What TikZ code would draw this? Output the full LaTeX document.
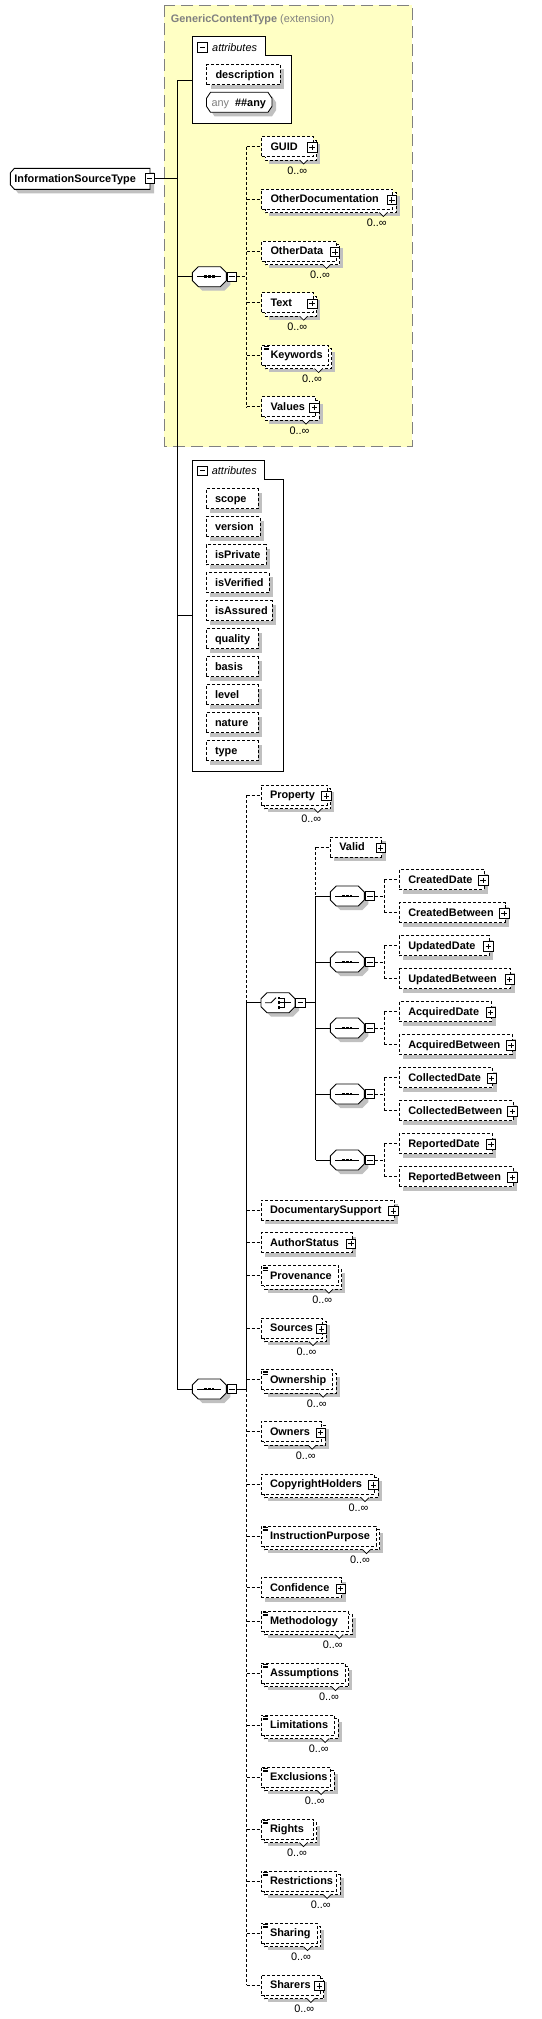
\documentclass[tikz,border=0pt]{standalone}
\usepackage{fontspec}
\setmainfont{Liberation Sans}
\definecolor{ylw}{RGB}{255,255,196}
\definecolor{shc}{RGB}{192,192,192}
\definecolor{ttl}{RGB}{128,128,128}
\tikzset{
 lblfont/.style={font=\fontsize{10.9}{12}\selectfont\bfseries},
 ebox/.style={draw,dash pattern=on 3pt off 2pt,line width=0.8pt,fill=white,anchor=west,minimum height=20pt,inner xsep=9pt,inner ysep=0pt,outer sep=0pt,text height=7.8pt,text depth=0pt,lblfont},
 dsh/.style={dash pattern=on 3pt off 2pt,line width=0.8pt},
 sol/.style={line width=0.9pt},
 icn/.style={draw,solid,fill=white,line width=0.8pt,minimum size=9.5pt,inner sep=0pt,outer sep=0pt},
 plusic/.style={icn,path picture={\draw[line width=0.8pt] ([xshift=2pt]path picture bounding box.west) -- ([xshift=-2pt]path picture bounding box.east) ([yshift=-2pt]path picture bounding box.north) -- ([yshift=2pt]path picture bounding box.south);}},
 minusic/.style={icn,path picture={\draw[line width=0.8pt] ([xshift=2pt]path picture bounding box.west) -- ([xshift=-2pt]path picture bounding box.east);}},
 multl/.style={font=\fontsize{10.9}{12}\selectfont,inner sep=0pt,text height=7.8pt,text depth=0pt},
 hid/.style={inner sep=0pt,outer sep=0pt,anchor=west,minimum height=20pt},
 ctr/.style={draw,fill=white,line width=0.9pt},
 attrlbl/.style={anchor=west,inner sep=0pt,font=\fontsize{10.9}{12}\selectfont\itshape,text height=7.8pt,text depth=0pt},
}
% doc icon
\newcommand\docic[2]{\draw[line width=0.6pt] (#1+2.3,#2-8.8) -- ++(5,0) (#1+2.3,#2-7.1) -- ++(5,0) (#1+2.3,#2-5.4) -- ++(5,0);}
% single element: name, x0, cy, w, text, p/n
\newcommand\elS[6]{%
  \fill[shc] (#2+4,#3-6) rectangle (#2+#4+4,#3+14);
  \node[ebox,minimum width=#4pt] (#1) at (#2,#3) {\makebox[\dimexpr#4pt-18pt\relax][l]{#5}};
  \ifx p#6\node[plusic] (#1p) at (#2+#4-1,#3+1) {};\fi
}
% multiple element: name, x0, cy, w, text, p/d
\newcommand\elM[6]{%
  \fill[shc] (#2+7,#3-3) rectangle (#2+#4+7,#3+17);
  \draw[dsh,fill=white] (#2+3.5,#3-6.5) rectangle (#2+#4+3.5,#3+13.5);
  \fill[white] (#2+#4-13.5,#3+13.2) -- (#2+#4-9.5,#3+17.5) -- (#2+#4-5.5,#3+13.2) -- cycle;
  \draw[line width=0.7pt] (#2+#4-13.5,#3+13.5) -- (#2+#4-9.5,#3+17.5) -- (#2+#4-5.5,#3+13.5);
  \node[ebox,minimum width=#4pt] (#1) at (#2,#3) {\makebox[\dimexpr#4pt-18pt\relax][l]{#5}};
  \ifx p#6\node[plusic] (#1p) at (#2+#4-1,#3+1) {};\else\docic{#2}{#3}\fi
  \node[multl] (#1c) at (#2+#4-16,#3+23.8) {0..∞};
}
\newcommand\octdraw[4]{\path[#4] (#1,#2-4) -- (#1+6,#2-10) -- (#1+#3-6,#2-10) -- (#1+#3,#2-4) -- (#1+#3,#2+4) -- (#1+#3-6,#2+10) -- (#1+6,#2+10) -- (#1,#2+4) -- cycle;}
% compositor: name, x0, cy, s/c
\newcommand\seqn[4]{%
  \octdraw{#2+4}{#3+4}{34}{fill=shc}
  \octdraw{#2}{#3}{34}{draw=black,fill=white,line width=0.9pt}
  \node[hid,minimum width=34pt] (#1) at (#2,#3) {};
  \ifx s#4%
    \draw[line width=0.9pt] (#2+5,#3) -- (#2+29,#3);
    \fill (#2+11.9,#3-1.4) rectangle ++(2.8,2.8);
    \fill (#2+15.6,#3-1.4) rectangle ++(2.8,2.8);
    \fill (#2+19.3,#3-1.4) rectangle ++(2.8,2.8);
  \else
    \draw[line width=0.9pt] (#2+4,#3) -- (#2+10,#3) -- (#2+15,#3-5);
    \fill (#2+16.5,#3-5.9) rectangle ++(2.6,2.6);
    \fill (#2+16.5,#3-1.3) rectangle ++(2.6,2.6);
    \fill (#2+16.5,#3+3.3) rectangle ++(2.6,2.6);
    \draw[line width=0.8pt] (#2+19.1,#3-4.6) -- (#2+23,#3-4.6) -- (#2+23,#3+4.6) -- (#2+19.1,#3+4.6) (#2+19.1,#3) -- (#2+30,#3);
  \fi
  \node[minusic] (#1m) at (#2+39.5,#3) {};
}
\begin{document}
\begin{tikzpicture}[x=1pt,y=-1pt]
\useasboundingbox (0,0) rectangle (541,2019);
\fill[white] (0,0) rectangle (541,2019);
% extension box
\draw[fill=ylw,draw=ttl,line width=1.2pt,dash pattern=on 12pt off 6pt] (164.3,5.3) rectangle (412.3,446.7);
\node[anchor=west,inner sep=0pt,text=ttl,font=\fontsize{10.9}{12}\selectfont,text height=7.8pt,text depth=0pt] (title) at (170.6,18.3) {\textbf{GenericContentType} (extension)};
% root
\fill[shc] (14.4,176.8) -- (18.4,172.3) -- (154,172.3) -- (154,193.3) -- (18.4,193.3) -- (14.4,188.8) -- cycle;
\draw[ctr] (10.4,172.8) -- (14.4,168.3) -- (150,168.3) -- (150,189.3) -- (14.4,189.3) -- (10.4,184.8) -- cycle;
\node[hid,minimum width=139.6pt,minimum height=21pt,inner xsep=4pt,text height=7.8pt,text depth=0pt,lblfont] (root) at (10.4,178.8) {\makebox[131.6pt][l]{InformationSourceType}};
\node[minusic] (rootm) at (149.7,178.5) {};
% attributes container A
\draw[ctr] (192.3,36.3) -- (265,36.3) -- (265,55.3) -- (291.9,55.3) -- (291.9,123.3) -- (192.3,123.3) -- cycle;
\node[hid,anchor=north west,minimum width=99.6pt,minimum height=87pt] (attrA) at (192.3,36.3) {};
\node[minusic] (attrAm) at (202.3,47.2) {};
\node[attrlbl] (attrAt) at (212,47.2) {attributes};
\elS{desc}{206.5}{74.5}{73.8}{description}{n}
\path[fill=shc] (210.5,102.3) -- (214.5,96.3) -- (272,96.3) -- (276,102.3) -- (276,110.3) -- (272,116.3) -- (214.5,116.3) -- (210.5,110.3) -- cycle;
\path[draw=black,fill=white,line width=0.8pt] (206.5,98.3) -- (210.5,92.3) -- (268,92.3) -- (272,98.3) -- (272,106.3) -- (268,112.3) -- (210.5,112.3) -- (206.5,106.3) -- cycle;
\node[hid,minimum width=65.5pt,inner xsep=5pt,text height=7.8pt,text depth=0pt,lblfont] (anyel) at (206.5,102.3) {\makebox[55.5pt][l]{{\mdseries\color{ttl}any}\hspace{6pt}\#\#any}};
% sequence 1
\seqn{seq1}{192.4}{276.7}{s}
\elM{guid}{261.5}{146.5}{51.7}{GUID}{p}
\elM{otherdoc}{261.5}{199}{131.3}{OtherDocumentation}{p}
\elM{otherdata}{261.5}{251}{74.5}{OtherData}{p}
\elM{textel}{261.5}{302.7}{51.7}{Text}{p}
\elM{keywords}{261.5}{355}{66.5}{Keywords}{d}
\elM{values}{261.5}{406.7}{54}{Values}{p}
% attributes container B
\draw[ctr] (192.3,460.3) -- (264.3,460.3) -- (264.3,479.3) -- (283.3,479.3) -- (283.3,771.3) -- (192.3,771.3) -- cycle;
\node[hid,anchor=north west,minimum width=91pt,minimum height=311pt] (attrB) at (192.3,460.3) {};
\node[minusic] (attrBm) at (202.5,470.8) {};
\node[attrlbl] (attrBt) at (211.7,471) {attributes};
\elS{scope}{206}{498.5}{52}{scope}{n}
\elS{version}{206}{526.5}{54}{version}{n}
\elS{isprivate}{206}{554.5}{60}{isPrivate}{n}
\elS{isverified}{206}{582.5}{63}{isVerified}{n}
\elS{isassured}{206}{610.5}{66}{isAssured}{n}
\elS{quality}{206}{638.5}{52}{quality}{n}
\elS{basis}{206}{666.5}{52}{basis}{n}
\elS{level}{206}{694.5}{52}{level}{n}
\elS{nature}{206}{722.5}{52}{nature}{n}
\elS{typeel}{206}{750.5}{52}{type}{n}
% sequence 2
\seqn{seq2}{192.3}{1389}{s}
\elM{property}{261}{795}{66.3}{Property}{p}
\seqn{choice}{261}{1002.7}{c}
\elS{valid}{330.3}{847}{51.4}{Valid}{p}
\seqn{sqA}{330.3}{896}{s}
\seqn{sqB}{330.3}{962}{s}
\seqn{sqC}{330.3}{1028}{s}
\seqn{sqD}{330.3}{1094}{s}
\seqn{sqE}{330.3}{1160}{s}
\elS{crD}{399.3}{879.5}{84.9}{CreatedDate}{p}
\elS{crB}{399.3}{912.5}{105.9}{CreatedBetween}{p}
\elS{upD}{399.3}{945.5}{90}{UpdatedDate}{p}
\elS{upB}{399.3}{978.5}{111.4}{UpdatedBetween}{p}
\elS{acD}{399.3}{1011.5}{92.4}{AcquiredDate}{p}
\elS{acB}{399.3}{1044.5}{112.7}{AcquiredBetween}{p}
\elS{coD}{399.3}{1077.5}{93.4}{CollectedDate}{p}
\elS{coB}{399.3}{1110.5}{114}{CollectedBetween}{p}
\elS{reD}{399.3}{1143.5}{92.7}{ReportedDate}{p}
\elS{reB}{399.3}{1176.5}{114}{ReportedBetween}{p}
\elS{docsupport}{261}{1210}{133.3}{DocumentarySupport}{p}
\elS{authorstatus}{261}{1242.7}{91}{AuthorStatus}{p}
\elM{provenance}{261}{1275.7}{77.3}{Provenance}{d}
\elM{sources}{261}{1328}{61.5}{Sources}{p}
\elM{ownership}{261}{1379.7}{71.7}{Ownership}{d}
\elM{owners}{261}{1431.7}{60.7}{Owners}{p}
\elM{copyright}{261}{1484}{113.5}{CopyrightHolders}{p}
\elM{instruction}{261}{1536}{115}{InstructionPurpose}{d}
\elS{confidence}{261}{1587.7}{80.7}{Confidence}{p}
\elM{methodology}{261}{1621}{87.7}{Methodology}{d}
\elM{assumptions}{261}{1673}{84}{Assumptions}{d}
\elM{limitations}{261}{1725}{73.7}{Limitations}{d}
\elM{exclusions}{261}{1777}{69.7}{Exclusions}{d}
\elM{rights}{261}{1829}{52}{Rights}{d}
\elM{restrictions}{261}{1881}{75.7}{Restrictions}{d}
\elM{sharing}{261}{1933}{56}{Sharing}{d}
\elM{sharers}{261}{1985}{59.3}{Sharers}{p}
% ---------- connectors ----------
\coordinate (TX) at (177.3,0);
\coordinate (S1X) at (246.6,0);
\coordinate (S2X) at (246.7,0);
\coordinate (CX) at (315.7,0);
\coordinate (IX) at (384.3,0);
\coordinate (ja) at (177.3,80.7);
\coordinate (jb) at (177.3,615.7);
\draw[sol] (ja) -- (seq2.west -| TX);
\draw[sol] (ja) -- (ja -| attrA.west);
\draw[sol] (rootm.east) -- (rootm.east -| TX);
\draw[sol] (seq1.west -| TX) -- (seq1.west);
\draw[sol] (jb) -- (jb -| attrB.west);
\draw[sol] (seq2.west -| TX) -- (seq2.west);
% seq1 children
\draw[dsh] (seq1m.east) -- (seq1m.east -| S1X);
\draw[dsh] (guid.west -| S1X) -- (values.west -| S1X);
\foreach \n in {guid,otherdoc,otherdata,textel,keywords,values}{\draw[dsh] (\n.west -| S1X) -- (\n.west);}
% seq2 children
\draw[sol] (seq2m.east) -- (seq2m.east -| S2X);
\draw[dsh] (property.west -| S2X) -- (choice.west -| S2X);
\draw[sol] (choice.west -| S2X) -- (seq2m.east -| S2X);
\draw[dsh] (seq2m.east -| S2X) -- (sharers.west -| S2X);
\draw[sol] (choice.west -| S2X) -- (choice.west);
\foreach \n in {property,docsupport,authorstatus,provenance,sources,ownership,owners,copyright,instruction,confidence,methodology,assumptions,limitations,exclusions,rights,restrictions,sharing,sharers}{\draw[dsh] (\n.west -| S2X) -- (\n.west);}
% choice children
\draw[sol] (choicem.east) -- (choicem.east -| CX);
\draw[dsh] (valid.west -| CX) -- (sqA.west -| CX);
\draw[sol] (sqA.west -| CX) -- (sqE.west -| CX);
\draw[dsh] (valid.west -| CX) -- (valid.west);
\foreach \n in {sqA,sqB,sqC,sqD,sqE}{\draw[sol] (\n.west -| CX) -- (\n.west);}
% inner sequences
\foreach \s/\a/\b in {sqA/crD/crB,sqB/upD/upB,sqC/acD/acB,sqD/coD/coB,sqE/reD/reB}{
  \draw[dsh] (\s m.east) -- (\s m.east -| IX);
  \draw[dsh] (\a.west -| IX) -- (\b.west -| IX);
  \draw[dsh] (\a.west -| IX) -- (\a.west);
  \draw[dsh] (\b.west -| IX) -- (\b.west);
}
\end{tikzpicture}
\end{document}
